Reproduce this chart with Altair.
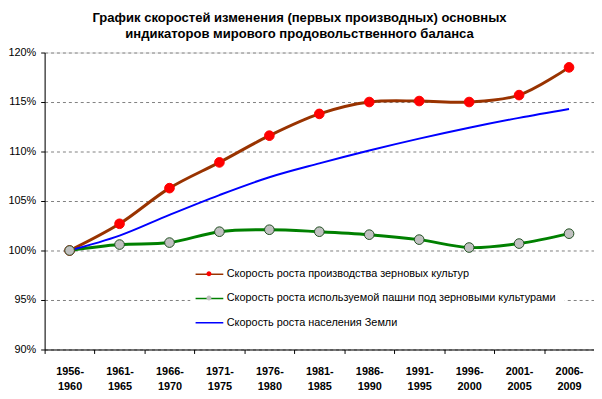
import altair as alt
import pandas as pd

periods = ["1956-1960", "1961-1965", "1966-1970", "1971-1975", "1976-1980", "1981-1985",
           "1986-1990", "1991-1995", "1996-2000", "2001-2005", "2006-2009"]

s_grain = "Скорость роста производства зерновых культур"
s_land = "Скорость роста используемой пашни под зерновыми культурами"
s_pop = "Скорость роста населения Земли"
series_names = [s_grain, s_land, s_pop]

grain = [100.0, 102.7, 106.3, 108.9, 111.6, 113.8, 115.0, 115.1, 115.0, 115.7, 118.5]
land = [100.0, 100.6, 100.8, 101.9, 102.1, 101.9, 101.6, 101.1, 100.3, 100.7, 101.7]
population = [100.0, 101.5, 103.6, 105.6, 107.4, 108.8, 110.1, 111.3, 112.4, 113.4, 114.3]

line_colors = ["#993300", "#008000", "#0000FF"]
line_widths = [3, 3, 2]
marker_fill = ["#FF0000", "#C0C0C0", "transparent"]
marker_stroke = ["#FF0000", "#1F4F1F", "transparent"]

y_ticks = [90, 95, 100, 105, 110, 115, 120]

rows = []
for name, vals in zip(series_names, [grain, land, population]):
    for p, v in zip(periods, vals):
        rows.append({"period": p, "value": v, "series": name, "marker": name})
df = pd.DataFrame(rows)

FONT = "Liberation Sans"
LEG_X = 147.5
LEG_Y = 205
ROW_PAD = 8.5

x_enc = alt.X(
    "period:N", sort=periods, bandPosition=0.5,
    scale=alt.Scale(type="band", paddingInner=0, paddingOuter=0),
    axis=alt.Axis(
        title=None, labelAngle=0, tickBand="extent", tickSize=4, tickColor="black",
        domainColor="black", labelFont=FONT, labelFontSize=11, labelFontWeight="bold",
        labelColor="black", labelPadding=12, labelLineHeight=15,
        labelExpr="[substring(datum.label,0,5), substring(datum.label,5)]",
    ),
)
y_enc = alt.Y(
    "value:Q",
    scale=alt.Scale(domain=[90, 120], nice=False, zero=False),
    axis=alt.Axis(
        title=None, values=y_ticks, labelExpr="datum.value + '%'", grid=True,
        gridDash=[3, 3], gridColor="#808080", gridWidth=1, tickSize=4, tickColor="black",
        domainColor="black", labelFont=FONT, labelFontSize=11, labelColor="black",
        labelPadding=5,
    ),
)

line_legend = alt.Legend(
    title=None, orient="none", legendX=LEG_X, legendY=LEG_Y, padding=8,
    fillColor="white", symbolType="M-1.4,0H1.4", symbolSize=400,
    labelOffset=6.5, rowPadding=ROW_PAD, labelFont=FONT, labelFontSize=11,
    labelColor="black", labelLimit=500,
)
marker_legend = alt.Legend(
    title=None, orient="none", legendX=LEG_X, legendY=LEG_Y, padding=8,
    symbolType="M0.25,0A0.25,0.25 0 1,1 -0.25,0A0.25,0.25 0 1,1 0.25,0Z",
    symbolSize=400, symbolStrokeWidth=0.8, labelOffset=6.5, rowPadding=ROW_PAD,
    labelFont=FONT, labelFontSize=11, labelExpr="''", labelLimit=500,
)

base = alt.Chart(df)

lines = base.mark_line(interpolate="catmull-rom").encode(
    x=x_enc, y=y_enc,
    color=alt.Color(
        "series:N", scale=alt.Scale(domain=series_names, range=line_colors),
        legend=line_legend,
    ),
    strokeWidth=alt.StrokeWidth(
        "series:N", scale=alt.Scale(type="ordinal", domain=series_names, range=line_widths),
        legend=line_legend,
    ),
    detail="series:N",
)

points = base.mark_point(filled=True, size=95, strokeWidth=1, opacity=1).encode(
    x=x_enc, y=y_enc,
    fill=alt.Fill(
        "marker:N", scale=alt.Scale(domain=series_names, range=marker_fill),
        legend=marker_legend,
    ),
    stroke=alt.Stroke(
        "marker:N", scale=alt.Scale(domain=series_names, range=marker_stroke),
        legend=marker_legend,
    ),
)

chart = alt.layer(lines, points).resolve_legend(color="independent", fill="independent").properties(
    width=555, height=300,
    padding={"left": 37, "top": 43, "right": 0, "bottom": 45},
    autosize=alt.AutoSizeParams(type="none"),
    title=alt.TitleParams(
        text=["График скоростей изменения (первых производных) основных",
              "индикаторов мирового продовольственного баланса"],
        font=FONT, fontSize=13.2, fontWeight="bold", color="black",
        anchor="middle", dx=-20, offset=5, lineHeight=16.5,
    ),
).configure_view(stroke=None).configure(background="white")

chart.save("out.html", embed_options={"renderer": "svg", "actions": False})
